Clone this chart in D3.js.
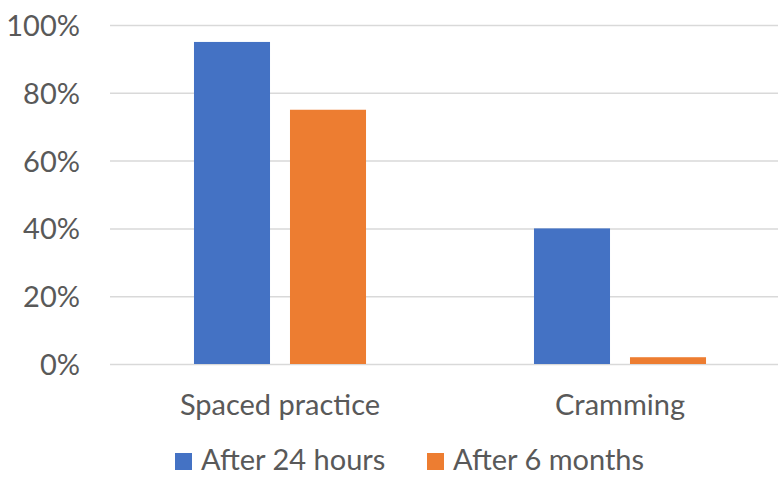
<!DOCTYPE html>
<html>
<head>
<meta charset="utf-8">
<script src="https://cdn.jsdelivr.net/npm/d3@7"></script>
<style>
  html, body { margin: 0; padding: 0; background: #fff; }
  svg { display: block; }
  text { font-family: Lato, "Open Sans", sans-serif; fill: #595959; }
</style>
</head>
<body>
<svg id="chart" width="778" height="477"></svg>
<script>
// Recall after spaced practice vs. cramming
const categories = ["Spaced practice", "Cramming"];
const seriesNames = ["After 24 hours", "After 6 months"];
const after24Hours = [0.95, 0.40];
const after6Months = [0.75, 0.02];
const yTicks = [0, 0.2, 0.4, 0.6, 0.8, 1.0];
const colors = ["#4472C4", "#ED7D31"];

const seriesValues = [after24Hours, after6Months];
const FONT = 29;

const svg = d3.select("#chart");
const plot = { left: 110, right: 790, top: 25, bottom: 364 };

const x0 = d3.scaleBand()
  .domain(categories)
  .range([plot.left, plot.right])
  .paddingInner(0.494)
  .paddingOuter(0.247);

const x1 = d3.scaleBand()
  .domain(seriesNames)
  .range([0, x0.bandwidth()])
  .paddingInner(0.208);

const y = d3.scaleLinear().domain([0, 1]).range([plot.bottom, plot.top]);

// Gridlines and y labels
const yAxis = d3.axisLeft(y)
  .tickValues(yTicks)
  .tickFormat(d3.format(".0%"))
  .tickSize(-(plot.right - plot.left))
  .tickPadding(30);

const gy = svg.append("g")
  .attr("transform", `translate(${plot.left},0)`)
  .call(yAxis);
gy.select(".domain").remove();
gy.selectAll(".tick line").attr("stroke", "#D9D9D9").attr("stroke-width", 1.5);
gy.selectAll(".tick text")
  .attr("x", -30)
  .attr("dy", "0.36em")
  .attr("font-size", FONT)
  .attr("fill", "#595959")
  .attr("font-family", "Lato, 'Open Sans', sans-serif");

// Bars
const groups = svg.append("g").selectAll("g")
  .data(categories)
  .join("g")
  .attr("transform", d => `translate(${x0(d)},0)`);

groups.selectAll("rect")
  .data((c, i) => seriesNames.map((s, j) => ({ s, j, v: seriesValues[j][i] })))
  .join("rect")
  .attr("x", d => x1(d.s))
  .attr("width", x1.bandwidth())
  .attr("y", d => y(d.v))
  .attr("height", d => y(0) - y(d.v))
  .attr("fill", d => colors[d.j]);

// Category labels
const xAxis = d3.axisBottom(x0).tickSize(0);
const gx = svg.append("g")
  .attr("transform", `translate(0,${plot.bottom})`)
  .call(xAxis);
gx.select(".domain").remove();
gx.selectAll(".tick text")
  .attr("y", 51)
  .attr("dy", null)
  .attr("font-size", FONT)
  .attr("fill", "#595959")
  .attr("font-family", "Lato, 'Open Sans', sans-serif");

// Legend along the bottom edge
const legendX = [175, 427];
const legend = svg.append("g").selectAll("g")
  .data(seriesNames)
  .join("g")
  .attr("transform", (d, i) => `translate(${legendX[i]},453)`);
legend.append("rect")
  .attr("width", 17).attr("height", 17)
  .attr("fill", (d, i) => colors[i]);
legend.append("text")
  .attr("x", 26).attr("y", 17)
  .attr("font-size", FONT)
  .text(d => d);
</script>
</body>
</html>
